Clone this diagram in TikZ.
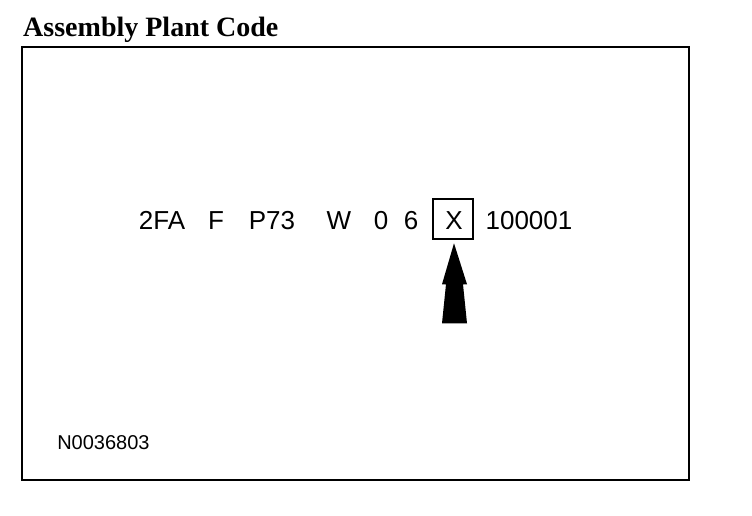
\documentclass[tikz,border=0pt]{standalone}
\usepackage{fontspec}
\setmainfont{Liberation Serif}
\newfontfamily\codefont{Liberation Sans}
\usetikzlibrary{positioning,calc}

\begin{document}
\begin{tikzpicture}
[x=1pt, y=-1pt, draw=black, line width=2.5pt,
code/.style={anchor=base, inner sep=0pt, font=\codefont\fontsize{26}{28}\selectfont},
plantbox/.style={draw, line width=2.5pt, minimum width=40pt, minimum height=40pt, inner sep=0pt}]

\useasboundingbox (0,0) rectangle (752,516);

\node[anchor=base west, inner sep=0pt, font=\bfseries\fontsize{28}{30}\selectfont] (title) at (22,37) {Assembly Plant Code};
\draw (22,47) rectangle (689,480);

% VIN
\node[code] (wmi) at (162,229) {2FA};
\node[code] (restraint) at (216,229) {F};
\node[code] (line) at (272,229) {P73};
\node[code] (engine) at (339,229) {W};
\node[code] (check) at (381,229) {0};
\node[code] (year) at (411,229) {6};
\node[code] (plantcode) at (454,229) {X};
\node[plantbox] (plant) at (453,219) {};
\node[code] (serial) at (529,229) {100001};

\node[anchor=base west, inner sep=0pt, font=\codefont\fontsize{20}{22}\selectfont] (number) at (56,449) {N0036803};

% pointer
\fill ($(plant.south)+(1,3)$) -- ++(13,41) -- ++(-4,0) -- ++(4,39) -- ++(-25,0) -- ++(4,-39) -- ++(-4,0) -- cycle;
\end{tikzpicture}
\end{document}
